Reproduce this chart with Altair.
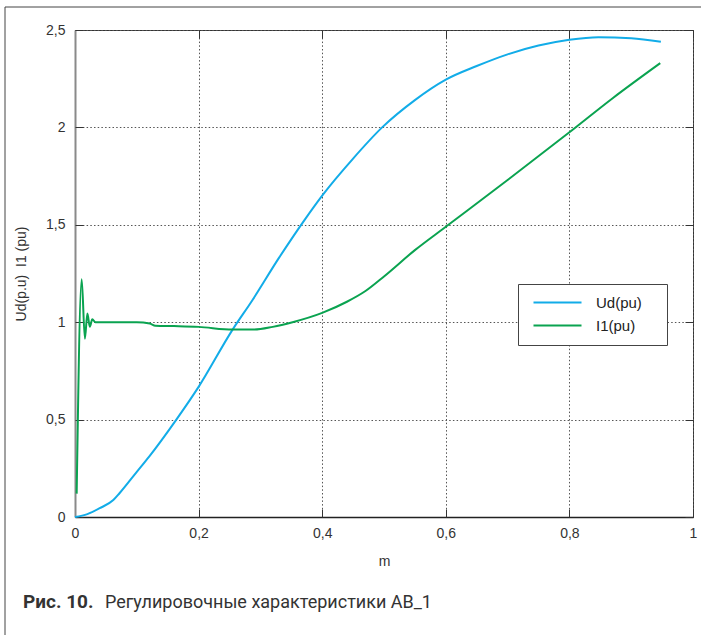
import altair as alt
import pandas as pd

# ---- data ----
m_ud = [0, 0.02, 0.04, 0.062, 0.072, 0.1, 0.12, 0.164, 0.2, 0.255, 0.287, 0.33,
        0.371, 0.4, 0.45, 0.497, 0.55, 0.6, 0.65, 0.7, 0.75, 0.8, 0.847, 0.9, 0.948]
ud = [0, 0.015, 0.045, 0.087, 0.122, 0.232, 0.31, 0.5, 0.668, 0.962, 1.113, 1.33,
      1.523, 1.65, 1.84, 2.0, 2.14, 2.245, 2.315, 2.375, 2.42, 2.45, 2.463, 2.458, 2.44]

m_i1 = [0.0027, 0.0108, 0.016, 0.02, 0.024, 0.028, 0.033, 0.06, 0.1, 0.121, 0.13,
        0.16, 0.2, 0.255, 0.29, 0.32, 0.352, 0.4, 0.44, 0.47, 0.5, 0.55, 0.6,
        0.7, 0.8, 0.87, 0.947]
i1 = [0.12, 1.22, 0.915, 1.045, 0.977, 1.015, 1.0, 1.0, 1.0, 0.993, 0.982,
      0.98, 0.976, 0.962, 0.962, 0.976, 1.0, 1.048, 1.105, 1.16, 1.235, 1.37, 1.49,
      1.73, 1.975, 2.15, 2.33]

series_names = ["Ud(pu)", "I1(pu)"]
series_colors = ["#12ACE8", "#0AA350"]
x_ticks = [0, 0.2, 0.4, 0.6, 0.8, 1.0]
y_ticks = [0, 0.5, 1.0, 1.5, 2.0, 2.5]
x_title = "m"
y_title = "Ud(p.u)\u00a0\u00a0I1 (pu)"
caption_bold = "Рис. 10."
caption_text = "Регулировочные характеристики АВ_1"

W, H = 618, 487

df = pd.concat([
    pd.DataFrame({"m": m_ud, "v": ud, "s": series_names[0], "o": range(len(m_ud))}),
    pd.DataFrame({"m": m_i1, "v": i1, "s": series_names[1], "o": range(len(m_i1))}),
])

xs = alt.Scale(domain=[0, 1], nice=False, zero=False)
ys = alt.Scale(domain=[0, 2.5], nice=False, zero=False)

FONT = "Liberation Sans"
LBL = "replace(format(datum.value, '~g'), '.', ',')"

lines = alt.Chart(df).mark_line(strokeWidth=2, interpolate="monotone").encode(
    x=alt.X("m:Q", scale=xs, axis=alt.Axis(
        orient="bottom", values=x_ticks, title=x_title, ticks=False,
        labelExpr=LBL, labelPadding=9, labelFlush=False,
        labelFont=FONT, labelFontSize=14, labelColor="#333",
        titleFont=FONT, titleFontSize=14, titleFontWeight="normal", titleColor="#333",
        titlePadding=14,
        grid=True, gridColor="#555", gridDash=[1.5, 2.2], gridWidth=1,
        domainColor="#222", domainWidth=1.5)),
    y=alt.Y("v:Q", scale=ys, axis=alt.Axis(
        orient="left", values=y_ticks, title=y_title, ticks=False,
        labelExpr=LBL, labelPadding=10, labelFlush=False,
        labelFont=FONT, labelFontSize=14, labelColor="#333",
        titleFont=FONT, titleFontSize=14, titleFontWeight="normal", titleColor="#333",
        titleX=-47,
        grid=True, gridColor="#555", gridDash=[1.5, 2.2], gridWidth=1,
        domainColor="#8a8a8a", domainWidth=2)),
    color=alt.Color("s:N", scale=alt.Scale(domain=series_names, range=series_colors),
                    legend=alt.Legend(
                        orient="none", legendX=443, legendY=254,
                        title="M", titleOrient="right", titleFontSize=10,
                        titleOpacity=0, titlePadding=5,
                        symbolType="M-0.5,0L7.5,0", symbolSize=144, symbolStrokeWidth=2,
                        labelOffset=52, padding=11, rowPadding=7,
                        strokeColor="#444", fillColor="white",
                        labelFont=FONT, labelFontSize=15, labelColor="#222")),
    order="o:Q",
)

tick_common = dict(grid=False, labels=False, domain=False, ticks=True, tickSize=8,
                   tickColor="#333", tickWidth=1, title=None)

ticks_a = alt.Chart(df).mark_point(opacity=0).encode(
    x=alt.X("m:Q", scale=xs, axis=alt.Axis(orient="top", offset=-H, values=x_ticks, **tick_common)),
    y=alt.Y("v:Q", scale=ys, axis=alt.Axis(orient="right", offset=-W, values=y_ticks, **tick_common)),
)
ticks_b = alt.Chart(df).mark_point(opacity=0).encode(
    x=alt.X("m:Q", scale=xs, axis=alt.Axis(orient="bottom", offset=-H, values=x_ticks, **tick_common)),
    y=alt.Y("v:Q", scale=ys, axis=alt.Axis(orient="left", offset=-W, values=y_ticks, **tick_common)),
)

one = alt.Data(values=[{}])
frame_left = alt.Chart(one).mark_rule(color="#444", strokeWidth=1).encode(
    x=alt.value(-70), y=alt.value(-23), y2=alt.value(H + 118))
frame_top = alt.Chart(one).mark_rule(color="#444", strokeWidth=1).encode(
    x=alt.value(-70), x2=alt.value(W + 8), y=alt.value(-23))

cap1 = alt.Chart(one).mark_text(align="left", baseline="alphabetic", font="Roboto",
                                fontSize=19, fontWeight="bold", color="#333").encode(
    x=alt.value(-52), y=alt.value(578), text=alt.value(caption_bold))
cap2 = alt.Chart(one).mark_text(align="left", baseline="alphabetic", font="Roboto",
                                fontSize=18, color="#333").encode(
    x=alt.value(30), y=alt.value(578), text=alt.value(caption_text))

chart = alt.layer(lines, ticks_a, ticks_b, frame_left, frame_top, cap1, cap2).resolve_axis(
    x="independent", y="independent"
).properties(
    width=W, height=H,
    autosize=alt.AutoSizeParams(type="none"),
    padding={"left": 75, "top": 30, "right": 8, "bottom": 118},
    background="white",
).configure_view(stroke="#333", strokeWidth=1)

chart.save("out.html", embed_options={"renderer": "svg", "actions": False})
